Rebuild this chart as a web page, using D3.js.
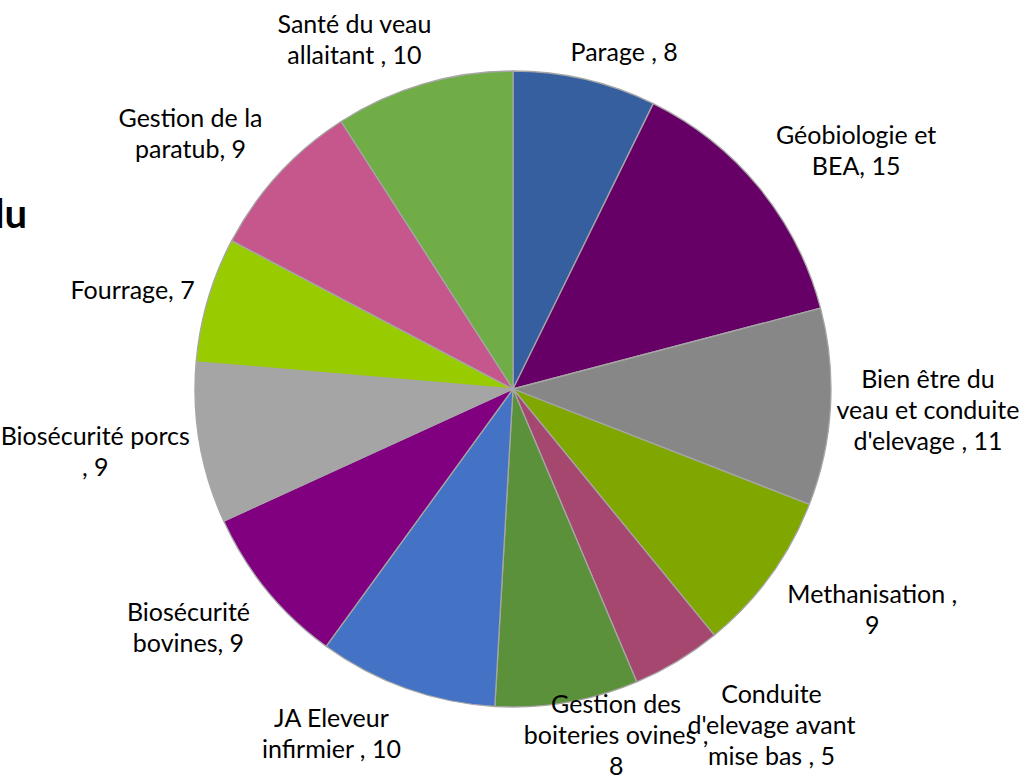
<!DOCTYPE html>
<html><head><meta charset="utf-8">
<script src="https://cdn.jsdelivr.net/npm/d3@7"></script>
<style>html,body{margin:0;padding:0;background:#fff;} svg{display:block;}</style>
</head><body>
<svg id="chart" width="1035" height="779"></svg>
<script>
const categories = ["Parage", "Géobiologie et BEA", "Bien être du veau et conduite d'elevage", "Methanisation",
  "Conduite d'elevage avant mise bas", "Gestion des boiteries ovines", "JA Eleveur infirmier",
  "Biosécurité bovines", "Biosécurité porcs", "Fourrage", "Gestion de la paratub", "Santé du veau allaitant"];
const values = [8, 15, 11, 9, 5, 8, 10, 9, 9, 7, 9, 10];
const labelLines = [
  ["Parage , 8"],
  ["Géobiologie et", "BEA, 15"],
  ["Bien être du", "veau et conduite", "d'elevage , 11"],
  ["Methanisation ,", "9"],
  ["Conduite", "d'elevage avant", "mise bas , 5"],
  ["Gestion des", "boiteries ovines ,", "8"],
  ["JA Eleveur", "infirmier , 10"],
  ["Biosécurité", "bovines, 9"],
  ["Biosécurité porcs", ", 9"],
  ["Fourrage, 7"],
  ["Gestion de la", "paratub, 9"],
  ["Santé du veau", "allaitant , 10"]
];
const colors = ["#365F9F", "#660066", "#878787", "#7FA700", "#A6476F", "#5B913A",
  "#4472C4", "#800080", "#A5A5A5", "#99CC00", "#C5578C", "#70AD47"];
const titleFragment = "du";

const W = 1035, H = 779;
const cx = 513, cy = 389, R = 318;
const fontFamily = "Lato, 'Open Sans', sans-serif";
const fontSize = 25, lineH = 31;

const svg = d3.select("#chart");
svg.append("rect").attr("width", W).attr("height", H).attr("fill", "#fff");

const data = categories.map((c, i) => ({ name: c, value: values[i], lines: labelLines[i], color: colors[i] }));
const pie = d3.pie().sort(null).value(d => d.value).startAngle(0).endAngle(2 * Math.PI);
const arcs = pie(data);
const arc = d3.arc().innerRadius(0).outerRadius(R);

const g = svg.append("g").attr("transform", `translate(${cx},${cy})`);
g.selectAll("path.slice").data(arcs).enter().append("path")
  .attr("class", "slice")
  .attr("d", arc)
  .attr("fill", d => d.data.color)
  .attr("stroke", "#A6A6A6")
  .attr("stroke-width", 1.3)
  .attr("stroke-linejoin", "round");

// labels: box attached outside the slice, on the side facing the pie
const clamp = v => Math.max(-1, Math.min(1, v));
const lg = svg.append("g");
arcs.forEach(d => {
  const a = (d.startAngle + d.endAngle) / 2;
  const s = Math.sin(a), c = -Math.cos(a);
  const gap = 4 + 18 * Math.abs(Math.sin(2 * a));
  const px = cx + s * (R + gap), py = cy + c * (R + gap);
  const t = lg.append("text")
    .attr("font-family", fontFamily).attr("font-size", fontSize).attr("fill", "#000")
    .attr("text-anchor", "middle");
  d.data.lines.forEach(ln => t.append("tspan").text(ln));
  let w = 0;
  t.selectAll("tspan").each(function () { w = Math.max(w, this.getComputedTextLength()); });
  const n = d.data.lines.length;
  const h = n * lineH;
  const bx = px + clamp(s * 3) * w / 2;
  let by = py + clamp(c * 1.2) * h / 2;
  by = Math.min(by, H - h / 2 + 3);
  by = Math.max(by, h / 2 - 3);
  t.selectAll("tspan")
    .attr("x", bx)
    .attr("y", (ln, i) => by - (n - 1) / 2 * lineH + i * lineH + fontSize * 0.35);
});

svg.append("text")
  .attr("x", 27).attr("y", 228)
  .attr("text-anchor", "end")
  .attr("font-family", fontFamily).attr("font-weight", "bold").attr("font-size", 40)
  .attr("fill", "#000")
  .text(titleFragment);
</script>
</body></html>
